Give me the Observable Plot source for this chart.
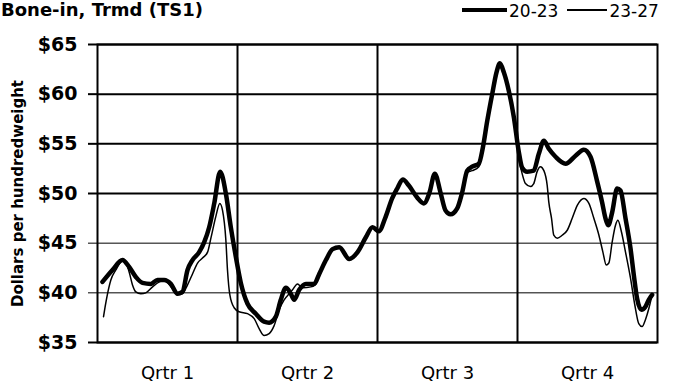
<!DOCTYPE html>
<html>
<head>
<meta charset="utf-8">
<script src="https://cdn.jsdelivr.net/npm/d3@7"></script>
<script src="https://cdn.jsdelivr.net/npm/@observablehq/plot@0.6"></script>
<style>
  html, body { margin: 0; padding: 0; background: white; }
  #wrap { position: relative; width: 684px; height: 387px; overflow: hidden; background: white; font-family: "DejaVu Sans", sans-serif; color: black; }
  #header { position: relative; height: 22px; }
  #title { position: absolute; left: 1px; top: 1px; font: bold 18px/1 "DejaVu Sans", sans-serif; white-space: nowrap; }
  #legend { position: absolute; left: 462px; top: 0; height: 20px; display: flex; align-items: center; font: 17px/1 "DejaVu Sans", sans-serif; white-space: nowrap; }
  #legend .sw { display: inline-block; background: black; }
  #legend .lab { position: relative; top: 1px; }
  #chart svg { display: block; }
</style>
</head>
<body>
<div id="wrap">
  <div id="header">
    <div id="title"></div>
    <div id="legend"></div>
  </div>
  <div id="chart"></div>
</div>
<script>
// ---- text ----
const titleText = "Bone-in, Trmd (TS1)";
const yTitle = "Dollars per hundredweight";
const seriesNames = ["20-23", "23-27"];
const quarterLabels = ["Qrtr 1", "Qrtr 2", "Qrtr 3", "Qrtr 4"];
const weeksPerQuarter = 13;

// ---- y ticks ($ per cwt) ----
const yTicksMajor = [35, 50, 55, 60, 65];
const yTicksMinor = [40, 45];

// ---- series 20-23 (week of year, $/cwt) ----
const weeks2023 = [0.46, 1.39, 2.32, 2.94, 3.56, 4.18, 4.95, 5.57, 6.19, 6.81, 7.43, 7.89, 8.36, 8.82, 9.44, 9.91, 10.37, 10.84, 11.39, 11.92, 12.38, 12.85, 13.31, 13.93, 14.70, 15.47, 15.94, 16.56, 17.02, 17.49, 17.95, 18.26, 18.73, 19.35, 20.12, 20.59, 21.21, 21.83, 22.45, 23.38, 24.15, 24.92, 25.54, 26.13, 26.74, 27.36, 27.83, 28.35, 28.91, 29.68, 30.30, 30.83, 31.32, 31.85, 32.31, 32.78, 33.40, 33.86, 34.33, 34.79, 35.41, 35.78, 36.19, 36.65, 37.05, 37.36, 37.73, 38.20, 38.66, 39.12, 39.43, 39.90, 40.51, 40.98, 41.45, 41.91, 42.53, 43.46, 44.39, 45.16, 45.78, 46.40, 46.86, 47.17, 47.42, 47.79, 48.25, 48.56, 49.03, 49.49, 49.80, 50.11, 50.51, 50.88, 51.19, 51.50];
const price2023 = [41.1, 42.3, 43.3, 42.6, 41.6, 41.0, 40.9, 41.3, 41.3, 40.9, 39.9, 40.1, 42.3, 43.3, 44.1, 45.1, 46.6, 49.0, 52.2, 50.0, 46.6, 43.6, 41.0, 38.9, 37.9, 37.1, 37.0, 37.6, 39.3, 40.5, 39.9, 39.3, 40.3, 40.9, 40.9, 41.9, 43.3, 44.4, 44.6, 43.4, 44.1, 45.6, 46.6, 46.2, 47.6, 49.5, 50.5, 51.4, 50.8, 49.6, 49.0, 50.1, 52.0, 50.1, 48.3, 47.9, 48.5, 50.1, 52.3, 52.7, 53.0, 54.6, 57.3, 60.0, 62.2, 63.1, 62.2, 60.3, 57.7, 54.2, 52.6, 52.2, 52.3, 54.0, 55.3, 54.5, 53.7, 53.0, 53.8, 54.4, 53.7, 51.2, 49.1, 47.5, 46.8, 48.1, 50.5, 50.3, 47.5, 44.5, 41.8, 39.4, 38.3, 38.6, 39.3, 39.8];

// ---- series 23-27 (week of year, $/cwt) ----
const weeks2327 = [0.56, 0.71, 0.93, 1.24, 1.70, 2.17, 2.48, 2.94, 3.25, 3.56, 4.02, 4.49, 5.11, 5.73, 6.19, 6.97, 7.43, 7.89, 8.36, 8.82, 9.29, 9.75, 10.22, 10.53, 10.99, 11.36, 11.61, 11.92, 12.07, 12.29, 12.69, 13.15, 13.93, 14.55, 15.01, 15.47, 15.94, 16.40, 16.87, 17.33, 17.80, 18.11, 18.57, 19.04, 19.81, 20.28, 20.59, 21.21, 21.83, 22.45, 23.38, 24.15, 24.92, 25.54, 26.13, 26.74, 27.36, 27.83, 28.35, 28.91, 29.68, 30.30, 30.83, 31.32, 31.85, 32.31, 32.78, 33.40, 33.86, 34.33, 34.79, 35.41, 35.78, 36.19, 36.65, 37.05, 37.36, 37.73, 38.20, 38.66, 39.18, 39.43, 39.74, 40.20, 40.51, 40.82, 41.13, 41.45, 41.76, 41.91, 42.16, 42.37, 42.69, 43.15, 43.62, 44.08, 44.55, 45.16, 45.63, 46.09, 46.56, 46.93, 47.24, 47.48, 47.79, 48.10, 48.32, 48.66, 49.03, 49.49, 49.89, 50.26, 50.57, 50.88, 51.19, 51.50];
const price2327 = [37.6, 38.6, 39.9, 41.3, 42.3, 43.1, 43.3, 42.1, 40.8, 40.1, 39.9, 40.0, 40.6, 41.1, 41.3, 40.4, 39.8, 39.9, 40.8, 41.9, 43.0, 43.5, 44.1, 45.5, 47.7, 49.0, 48.3, 45.3, 42.3, 39.8, 38.5, 38.1, 37.9, 37.4, 36.4, 35.7, 35.9, 36.7, 38.3, 39.3, 39.9, 40.3, 40.9, 40.5, 40.6, 40.9, 41.9, 43.3, 44.4, 44.6, 43.4, 44.1, 45.6, 46.6, 46.2, 47.6, 49.5, 50.5, 51.4, 50.8, 49.6, 49.0, 50.1, 52.0, 50.1, 48.3, 47.9, 48.5, 50.1, 52.1, 52.3, 52.7, 54.4, 57.3, 60.0, 62.2, 63.1, 62.2, 60.3, 57.7, 53.2, 52.0, 51.0, 50.7, 51.0, 52.2, 52.7, 52.3, 50.8, 49.1, 47.5, 45.8, 45.5, 45.8, 46.3, 47.5, 48.8, 49.5, 49.0, 47.5, 45.8, 44.1, 42.8, 43.0, 45.1, 46.8, 47.3, 46.1, 44.1, 41.5, 38.8, 36.9, 36.6, 37.3, 38.4, 39.8];

// ---- build tables ----
const data2023 = weeks2023.map((w, i) => ({week: w, price: price2023[i]}));
const data2327 = weeks2327.map((w, i) => ({week: w, price: price2327[i]}));
const nQ = quarterLabels.length;
const yearWeeks = nQ * weeksPerQuarter;
const quarterBounds = d3.range(1, nQ).map(q => q * weeksPerQuarter);
const quarterCenters = d3.range(nQ).map(q => (q + 0.5) * weeksPerQuarter);
const fmt = d => "$" + d;

// ---- header ----
document.getElementById("title").textContent = titleText;
const legend = document.getElementById("legend");
legend.innerHTML =
  `<span class="sw" style="width:45px;height:4.5px"></span>` +
  `<span class="lab" style="margin-left:2px">${seriesNames[0]}</span>` +
  `<span class="sw" style="width:40px;height:1.5px;margin-left:9px"></span>` +
  `<span class="lab" style="margin-left:2px">${seriesNames[1]}</span>`;

// ---- chart ----
const yAxisOpts = {tickSize: 9, tickPadding: 11, tickFormat: fmt, fontSize: 19, fontWeight: "bold", label: null};
const chart = Plot.plot({
  width: 684,
  height: 365,
  marginTop: 22,
  marginLeft: 97,
  marginRight: 27,
  marginBottom: 45,
  style: {fontFamily: "DejaVu Sans, sans-serif", color: "black", background: "white", overflow: "visible"},
  x: {domain: [0, yearWeeks]},
  y: {domain: [d3.min(yTicksMajor), d3.max(yTicksMajor)]},
  marks: [
    Plot.ruleY(yTicksMinor, {strokeWidth: 1}),
    Plot.ruleY(yTicksMajor, {strokeWidth: 2}),
    Plot.ruleX(quarterBounds, {strokeWidth: 2}),
    Plot.frame({strokeWidth: 2}),
    Plot.axisY(yTicksMajor, {...yAxisOpts, strokeWidth: 2}),
    Plot.axisY(yTicksMinor, {...yAxisOpts, strokeWidth: 1}),
    Plot.axisX(quarterCenters, {tickSize: 0, tickPadding: 24, fontSize: 18, label: null,
      tickFormat: d => quarterLabels[Math.floor(d / weeksPerQuarter)]}),
    Plot.text([yTitle], {frameAnchor: "left", textAnchor: "middle", dx: -79, rotate: -90, fontSize: 15, fontWeight: "bold"}),
    Plot.line(data2327, {x: "week", y: "price", strokeWidth: 1.5, curve: "monotone-x"}),
    Plot.line(data2023, {x: "week", y: "price", strokeWidth: 4.5, curve: "monotone-x"})
  ]
});
document.getElementById("chart").appendChild(chart);
</script>
</body>
</html>
